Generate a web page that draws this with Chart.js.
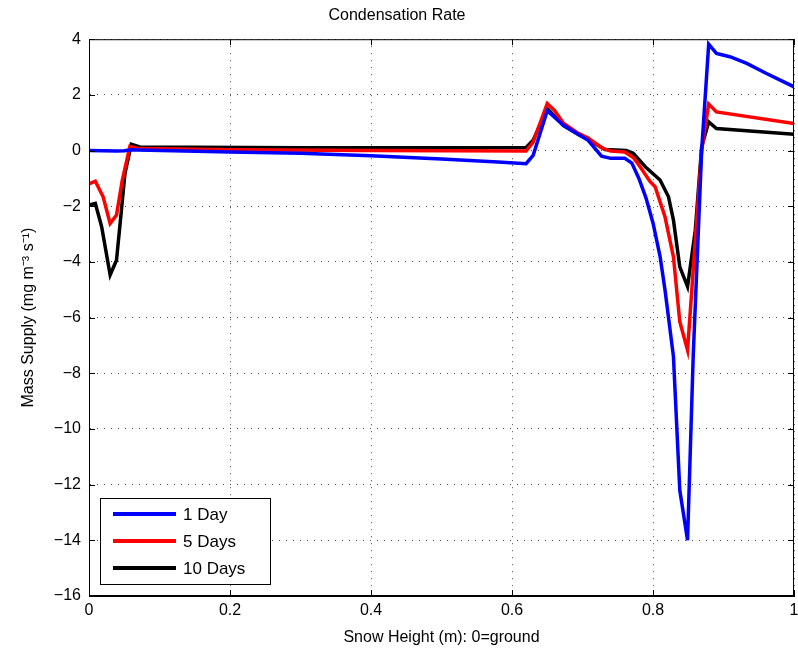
<!DOCTYPE html>
<html>
<head>
<meta charset="utf-8">
<script src="https://cdn.jsdelivr.net/npm/chart.js@4"></script>
<style>
  html, body { margin: 0; padding: 0; background: #fff; }
  #wrap { width: 798px; height: 655px; }
</style>
</head>
<body>
<div id="wrap"><canvas id="myChart"></canvas></div>
<script>
// values
const day1X = [0, 0.02, 0.04, 0.05, 0.06, 0.07, 0.2, 0.3, 0.4, 0.5, 0.58, 0.62, 0.63, 0.65, 0.673, 0.692, 0.708, 0.727, 0.74, 0.76, 0.77, 0.78, 0.79, 0.8, 0.81, 0.817, 0.829, 0.838, 0.849, 0.857, 0.869, 0.879, 0.89, 0.909, 0.933, 0.961, 1.0];
const day1Y = [0, -0.01, -0.02, -0.01, 0.03, 0.02, -0.05, -0.1, -0.19, -0.3, -0.41, -0.47, -0.17, 1.43, 0.91, 0.61, 0.37, -0.2, -0.28, -0.28, -0.45, -1.0, -1.7, -2.6, -3.8, -5.0, -7.4, -12.2, -14.0, -7.4, 0.0, 3.82, 3.49, 3.37, 3.13, 2.77, 2.29];

const day5X = [0, 0.009, 0.02, 0.03, 0.039, 0.047, 0.058, 0.07, 0.2, 0.4, 0.62, 0.63, 0.65, 0.66, 0.673, 0.692, 0.708, 0.727, 0.74, 0.76, 0.772, 0.78, 0.796, 0.803, 0.817, 0.829, 0.838, 0.849, 0.869, 0.879, 0.89, 1.0];
const day5Y = [-1.2, -1.1, -1.66, -2.62, -2.32, -1.1, 0.15, 0.07, 0.03, 0.0, -0.02, 0.3, 1.69, 1.45, 0.98, 0.65, 0.45, 0.1, -0.02, -0.05, -0.25, -0.52, -1.12, -1.3, -2.38, -3.82, -6.15, -7.17, 0.0, 1.67, 1.39, 0.97];

const day10X = [0, 0.009, 0.018, 0.03, 0.039, 0.046, 0.051, 0.06, 0.072, 0.3, 0.62, 0.63, 0.65, 0.673, 0.696, 0.708, 0.732, 0.762, 0.772, 0.789, 0.81, 0.822, 0.829, 0.838, 0.849, 0.86, 0.869, 0.879, 0.89, 1.0];
const day10Y = [-1.96, -1.9, -2.74, -4.47, -3.94, -2.14, -0.82, 0.23, 0.13, 0.1, 0.11, 0.37, 1.51, 0.9, 0.55, 0.4, 0.04, 0.0, -0.1, -0.58, -1.06, -1.66, -2.5, -4.18, -4.89, -2.86, 0.13, 1.03, 0.79, 0.59];

const seriesLabels = ["1 Day", "5 Days", "10 Days"];
const xTicks = [0, 0.2, 0.4, 0.6, 0.8, 1];
const yTicks = [4, 2, 0, -2, -4, -6, -8, -10, -12, -14, -16];

const FONT = "'Liberation Sans', Arial, Helvetica, sans-serif";

function pts(xs, ys) {
  return xs.map((x, i) => ({ x: x, y: ys[i] }));
}

// box, inward ticks and the legend, matlab style
const matlabFrame = {
  id: "matlabFrame",
  afterDraw(chart) {
    const ctx = chart.ctx;
    const a = chart.chartArea;
    const xs = chart.scales.x, ys = chart.scales.y;
    ctx.save();
    ctx.strokeStyle = "#000";
    ctx.lineWidth = 1;
    ctx.strokeRect(a.left + 0.5, a.top + 0.5, a.right - a.left - 1, a.bottom - a.top - 1);
    ctx.beginPath();
    xTicks.forEach((v) => {
      const p = Math.round(xs.getPixelForValue(v)) + 0.5;
      ctx.moveTo(p, a.bottom); ctx.lineTo(p, a.bottom - 6);
      ctx.moveTo(p, a.top); ctx.lineTo(p, a.top + 6);
    });
    yTicks.forEach((v) => {
      const p = Math.round(ys.getPixelForValue(v)) + 0.5;
      ctx.moveTo(a.left, p); ctx.lineTo(a.left + 6, p);
      ctx.moveTo(a.right, p); ctx.lineTo(a.right - 6, p);
    });
    ctx.stroke();

    // legend
    const lx = 100, ly = 498, lw = 170, lh = 86;
    ctx.fillStyle = "#fff";
    ctx.fillRect(lx, ly, lw, lh);
    ctx.strokeRect(lx + 0.5, ly + 0.5, lw, lh);
    ctx.font = "17px " + FONT;
    ctx.textBaseline = "middle";
    chart.data.datasets.forEach((ds, i) => {
      const y = 514 + i * 27;
      ctx.strokeStyle = ds.borderColor;
      ctx.lineWidth = 4;
      ctx.beginPath();
      ctx.moveTo(113, y); ctx.lineTo(176, y);
      ctx.stroke();
      ctx.fillStyle = "#000";
      ctx.fillText(ds.label, 183, y + 1);
    });
    ctx.restore();
  },
};

new Chart(document.getElementById("myChart"), {
  type: "line",
  data: {
    datasets: [
      { label: seriesLabels[0], data: pts(day1X, day1Y), borderColor: "#0000ff" },
      { label: seriesLabels[1], data: pts(day5X, day5Y), borderColor: "#ff0000" },
      { label: seriesLabels[2], data: pts(day10X, day10Y), borderColor: "#000000" },
    ].map((d) => Object.assign(d, { borderWidth: 3.5, pointRadius: 0, tension: 0, fill: false })),
  },
  options: {
    responsive: true,
    maintainAspectRatio: false,
    animation: false,
    layout: { padding: { left: 0, right: 4, top: 0, bottom: 0 } },
    plugins: {
      legend: { display: false },
      tooltip: { enabled: false },
      title: {
        display: true,
        text: "Condensation Rate",
        color: "#000",
        font: { family: FONT, size: 16, weight: "normal" },
        padding: { top: 6, bottom: 14 },
      },
    },
    scales: {
      x: {
        type: "linear",
        min: 0,
        max: 1,
        afterBuildTicks: (s) => { s.ticks = xTicks.map((v) => ({ value: v })); },
        afterFit: (s) => { s.height = 59; s.paddingLeft = 0; s.paddingRight = 0; },
        ticks: {
          color: "#000",
          padding: 5,
          font: { family: FONT, size: 16 },
          callback: (v) => String(v),
        },
        grid: { color: "rgba(0,0,0,0.7)", drawTicks: false },
        border: { display: true, color: "#000", dash: [1, 6] },
        title: {
          display: true,
          text: "Snow Height (m): 0=ground",
          color: "#000",
          font: { family: FONT, size: 16 },
          padding: { top: 0, bottom: 8 },
        },
      },
      y: {
        type: "linear",
        min: -16,
        max: 4,
        afterBuildTicks: (s) => { s.ticks = yTicks.map((v) => ({ value: v })); },
        afterFit: (s) => { s.width = 89; s.paddingTop = 0; s.paddingBottom = 0; },
        ticks: {
          color: "#000",
          padding: 8,
          font: { family: FONT, size: 16 },
          callback: (v) => String(v).replace("-", "\u2212"),
        },
        grid: { color: "rgba(0,0,0,0.7)", drawTicks: false },
        border: { display: true, color: "#000", dash: [1, 6] },
        title: {
          display: true,
          text: "Mass Supply (mg m\u207B\u00B3 s\u207B\u00B9)",
          color: "#000",
          font: { family: FONT, size: 16 },
          padding: { top: 19, bottom: 0 },
        },
      },
    },
  },
  plugins: [matlabFrame],
});
</script>
</body>
</html>
